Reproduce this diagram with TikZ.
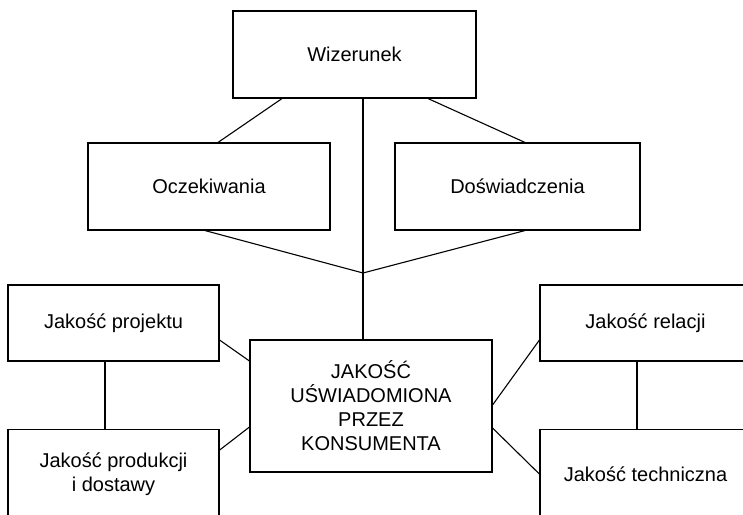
\documentclass[tikz,border=0pt]{standalone}
\usepackage{fontspec}
\setmainfont{Liberation Sans}
\usetikzlibrary{positioning}

\begin{document}
\begin{tikzpicture}[x=1pt,y=-1pt,
  box/.style={draw,line width=1.1pt,align=center,inner sep=0pt,
    font=\fontsize{20}{24}\selectfont},
  link/.style={line width=1.1pt}]
\path[use as bounding box] (0,0) rectangle (743,514);
\clip (0,0) rectangle (743,514);
\node [box,minimum width=243pt,minimum height=87pt] (wiz) at (354.5,54.5) {Wizerunek};
\node [box,minimum width=242pt,minimum height=87pt] (ocz) at (209,186.5) {Oczekiwania};
\node [box,minimum width=245pt,minimum height=87pt] (dos) at (517.5,186.5) {Do\'swiadczenia};
\node [box,minimum width=242pt,minimum height=132pt] (jak) at (371,406)
  {JAKO\'S\'C\\U\'SWIADOMIONA\\PRZEZ\\KONSUMENTA};
\node [box,minimum width=211pt,minimum height=76pt] (proj) at (113.5,323) {Jako\'s\'c projektu};
\node [box,minimum width=211pt,minimum height=90pt,below=67pt of proj] (prod)
  {Jako\'s\'c produkcji\\i dostawy};
\node [box,minimum width=211pt,minimum height=76pt] (rel) at (645.5,323) {Jako\'s\'c relacji};
\node [box,minimum width=211pt,minimum height=90pt,below=67pt of rel] (tech) {Jako\'s\'c techniczna};
\coordinate (hub) at (363,273);
% upper part
\draw [link] ([xshift=-72.5pt]wiz.south) -- ([xshift=9pt]ocz.north);
\draw [link] ([xshift=73.5pt]wiz.south) -- ([xshift=7.5pt]dos.north);
\draw [link] (hub |- wiz.south) -- (hub |- jak.north);
\draw [link] ([xshift=-4pt]ocz.south) -- (hub) -- ([xshift=7.5pt]dos.south);
% sides
\draw [link] ([yshift=-17pt]proj.east) -- ([yshift=45pt]jak.west);
\draw [link] ([yshift=24pt]prod.east) -- ([yshift=-21pt]jak.west);
\draw [link] ([yshift=-17pt]rel.west) -- ([yshift=1pt]jak.east);
\draw [link] (tech.west) -- ([yshift=-22pt]jak.east);
\draw [link] ([xshift=-8.5pt]proj.south) -- ([xshift=-8.5pt]prod.north);
\draw [link] ([xshift=-8.5pt]rel.south) -- ([xshift=-8.5pt]tech.north);
\end{tikzpicture}
\end{document}
